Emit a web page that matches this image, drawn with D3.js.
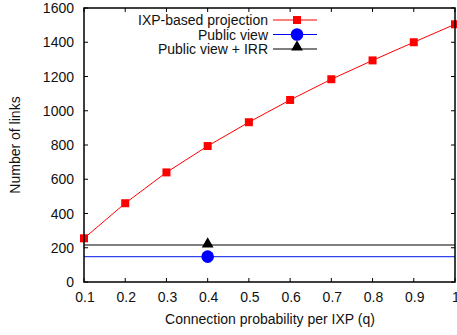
<!DOCTYPE html>
<html><head><meta charset="utf-8">
<script src="https://cdn.jsdelivr.net/npm/d3@7"></script>
<style>body{margin:0;background:#fff}text{font-family:"Liberation Sans",Arial,sans-serif}</style>
</head><body>
<svg id="c" width="457" height="335"></svg>
<script>
const qValues = [0.1,0.2,0.3,0.4,0.5,0.6,0.7,0.8,0.9,1.0];
const ixpLinks = [255,460,640,794,933,1063,1184,1294,1400,1505];
const publicView = 148;
const publicIrr = 216;
const markerQ = 0.4;
const xTicks = [0.1,0.2,0.3,0.4,0.5,0.6,0.7,0.8,0.9,1.0];
const yTicks = [0,200,400,600,800,1000,1200,1400,1600];
const legendLabels = ["IXP-based projection","Public view","Public view + IRR"];

const svg = d3.select("#c");
const L=84, R=455, T=8, B=282;
const x = d3.scaleLinear().domain([0.1,1]).range([L,R]);
const y = d3.scaleLinear().domain([0,1600]).range([B,T]);

// horizontal lines
svg.append("line").attr("x1",L).attr("x2",R).attr("y1",y(publicIrr)).attr("y2",y(publicIrr)).attr("stroke","#000").attr("stroke-width",1.2);
svg.append("line").attr("x1",L).attr("x2",R).attr("y1",y(publicView)).attr("y2",y(publicView)).attr("stroke","#3344ee").attr("stroke-width",1.2);

// red series
svg.append("path").datum(qValues.map((q,i)=>[q,ixpLinks[i]]))
  .attr("d",d3.line().x(d=>x(d[0])).y(d=>y(d[1])))
  .attr("fill","none").attr("stroke","#f00").attr("stroke-width",1);
svg.selectAll("rect.pt").data(qValues.map((q,i)=>[q,ixpLinks[i]])).enter().append("rect")
  .attr("x",d=>x(d[0])-4).attr("y",d=>y(d[1])-4).attr("width",8).attr("height",8).attr("fill","#f00");

// markers
svg.append("circle").attr("cx",x(markerQ)).attr("cy",y(publicView)).attr("r",6.3).attr("fill","#0000ff");
const tri = d3.symbol().type(d3.symbolTriangle).size(60);
svg.append("path").attr("d",tri()).attr("transform",`translate(${x(markerQ)},${y(publicIrr)-1})`).attr("fill","#000");

// frame
svg.append("rect").attr("x",L).attr("y",T).attr("width",R-L).attr("height",B-T).attr("fill","none").attr("stroke","#000").attr("stroke-width",1.5);

// ticks
const g = svg.append("g");
xTicks.forEach(t=>{
  g.append("line").attr("x1",x(t)).attr("x2",x(t)).attr("y1",B).attr("y2",B-4).attr("stroke","#000");
  g.append("line").attr("x1",x(t)).attr("x2",x(t)).attr("y1",T).attr("y2",T+4).attr("stroke","#000");
  g.append("text").attr("x",x(t)+1).attr("y",B+20).attr("text-anchor","middle").attr("font-size",14).attr("fill","#111")
    .text(t===1?"1":d3.format(".1f")(t));
});
yTicks.forEach(t=>{
  g.append("line").attr("x1",L).attr("x2",L+4).attr("y1",y(t)).attr("y2",y(t)).attr("stroke","#000");
  g.append("line").attr("x1",R).attr("x2",R-4).attr("y1",y(t)).attr("y2",y(t)).attr("stroke","#000");
  g.append("text").attr("x",L-10).attr("y",y(t)+5).attr("text-anchor","end").attr("font-size",14).attr("fill","#111").text(t);
});

// axis titles
svg.append("text").attr("x",270).attr("y",324).attr("text-anchor","middle").attr("font-size",14).attr("fill","#111").text("Connection probability per IXP (q)");
svg.append("text").attr("transform","translate(20,145) rotate(-90)").attr("text-anchor","middle").attr("font-size",14).attr("fill","#111").text("Number of links");

// legend
const rows=[20,34.5,49];
const colors=["#f00","#00f","#000"];
legendLabels.forEach((lab,i)=>{
  svg.append("text").attr("x",268).attr("y",rows[i]+5).attr("text-anchor","end").attr("font-size",14).attr("fill","#111").text(lab);
  svg.append("line").attr("x1",273).attr("x2",317).attr("y1",rows[i]).attr("y2",rows[i]).attr("stroke",colors[i]).attr("stroke-width",1.2);
});
svg.append("rect").attr("x",297-4).attr("y",rows[0]-4).attr("width",8).attr("height",8).attr("fill","#f00");
svg.append("circle").attr("cx",297).attr("cy",rows[1]).attr("r",6.3).attr("fill","#00f");
svg.append("path").attr("d",tri()).attr("transform",`translate(297,${rows[2]-2})`).attr("fill","#000");
</script>
</body></html>
